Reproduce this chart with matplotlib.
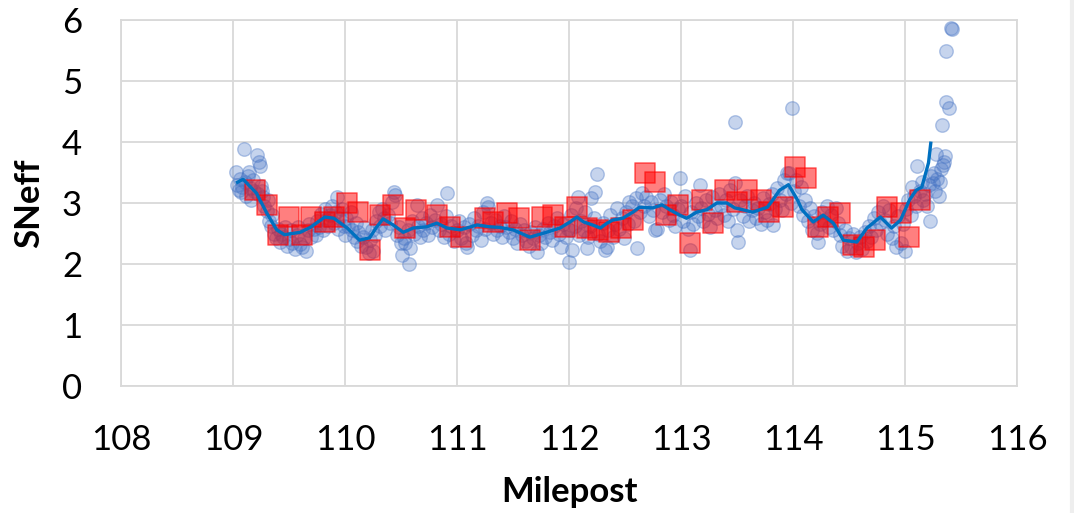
import matplotlib.pyplot as plt
from matplotlib.lines import Line2D

plt.rcParams['font.family'] = ['Lato', 'DejaVu Sans']

# blue circles: individual SNeff readings, one mile at a time
x_109 = [109.03, 109.04, 109.05, 109.06, 109.07, 109.08, 109.10, 109.11, 109.12, 109.13, 109.14, 109.15, 109.16,
         109.18, 109.19, 109.21, 109.22, 109.23, 109.24, 109.25, 109.26, 109.27, 109.28, 109.30, 109.31, 109.32,
         109.34, 109.35, 109.37, 109.38, 109.40, 109.42, 109.43, 109.45, 109.46, 109.48, 109.50, 109.52, 109.53,
         109.55, 109.57, 109.58, 109.60, 109.62, 109.63, 109.65, 109.67, 109.68, 109.70, 109.72, 109.74, 109.75,
         109.77, 109.79, 109.80, 109.82, 109.83, 109.85, 109.87, 109.88, 109.90, 109.92, 109.93, 109.94, 109.95,
         109.97, 109.99]
y_109 = [3.51, 3.30, 3.22, 3.40, 3.18, 3.27, 3.89, 3.35, 3.12, 3.45, 3.51, 3.24, 3.05,
         3.38, 3.20, 3.79, 3.14, 3.68, 3.60, 3.28, 3.20, 3.10, 2.95, 2.87, 3.05, 2.70,
         2.62, 2.80, 2.50, 2.42, 2.58, 2.36, 2.50, 2.44, 2.60, 2.30, 2.41, 2.55, 2.35,
         2.25, 2.47, 2.60, 2.32, 2.28, 2.42, 2.22, 2.55, 2.66, 2.45, 2.58, 2.48, 2.70,
         2.60, 2.82, 2.55, 2.90, 2.72, 2.62, 2.80, 2.95, 2.68, 2.85, 3.10, 2.58, 2.75,
         2.90, 2.62]

x_110 = [110.00, 110.01, 110.03, 110.05, 110.06, 110.08, 110.10, 110.11, 110.12, 110.14, 110.16, 110.17, 110.19,
         110.21, 110.22, 110.24, 110.25, 110.27, 110.28, 110.30, 110.31, 110.33, 110.35, 110.36, 110.38, 110.40,
         110.42, 110.44, 110.45, 110.46, 110.48, 110.50, 110.51, 110.53, 110.54, 110.56, 110.57, 110.58, 110.60,
         110.62, 110.64, 110.65, 110.67, 110.69, 110.70, 110.72, 110.74, 110.76, 110.78, 110.80, 110.82, 110.84,
         110.86, 110.88, 110.90, 110.91, 110.93, 110.95, 110.97]
y_110 = [2.48, 2.75, 2.62, 2.85, 2.55, 2.45, 2.68, 2.38, 2.52, 2.30, 2.45, 2.60, 2.28,
         2.18, 2.40, 2.55, 2.22, 2.48, 2.70, 2.85, 2.62, 2.90, 2.75, 2.55, 2.80, 2.68,
         3.02, 3.18, 3.13, 2.48, 2.60, 2.35, 2.15, 2.42, 2.34, 2.55, 2.00, 2.26, 2.70,
         2.50, 2.97, 2.62, 2.45, 2.75, 2.55, 2.68, 2.48, 2.80, 2.60, 2.72, 2.97, 2.55,
         2.65, 2.45, 2.78, 3.16, 2.50, 2.62, 2.38]

x_111 = [111.00, 111.02, 111.04, 111.06, 111.08, 111.09, 111.11, 111.13, 111.15, 111.17, 111.19, 111.21, 111.23,
         111.25, 111.27, 111.28, 111.30, 111.32, 111.34, 111.36, 111.38, 111.40, 111.42, 111.44, 111.46, 111.48,
         111.50, 111.52, 111.54, 111.56, 111.58, 111.60, 111.62, 111.64, 111.66, 111.68, 111.70, 111.71, 111.73,
         111.75, 111.77, 111.79, 111.81, 111.83, 111.85, 111.87, 111.89, 111.91, 111.93, 111.95, 111.97, 111.99]
y_111 = [2.55, 2.70, 2.42, 2.60, 2.35, 2.28, 2.65, 2.48, 2.75, 2.55, 2.62, 2.40, 2.85,
         2.58, 3.00, 2.93, 2.68, 2.50, 2.72, 2.55, 2.62, 2.45, 2.78, 2.60, 2.52, 2.70,
         2.42, 2.58, 2.35, 2.65, 2.48, 2.55, 2.38, 2.30, 2.52, 2.42, 2.60, 2.20, 2.48,
         2.35, 2.58, 2.45, 2.68, 2.52, 2.40, 2.62, 2.75, 2.50, 2.28, 2.65, 2.45, 2.58]

x_112 = [112.00, 112.01, 112.02, 112.03, 112.05, 112.06, 112.08, 112.09, 112.11, 112.13, 112.14, 112.16, 112.17,
         112.19, 112.20, 112.22, 112.23, 112.25, 112.26, 112.28, 112.30, 112.32, 112.34, 112.35, 112.37, 112.39,
         112.41, 112.43, 112.45, 112.47, 112.49, 112.51, 112.53, 112.54, 112.56, 112.58, 112.60, 112.61, 112.63,
         112.65, 112.67, 112.69, 112.71, 112.73, 112.75, 112.77, 112.79, 112.81, 112.83, 112.85, 112.87, 112.89,
         112.91, 112.93, 112.95, 112.97, 112.99]
y_112 = [2.03, 2.55, 2.80, 2.23, 2.62, 2.92, 3.10, 2.48, 2.70, 2.55, 2.85, 2.26, 2.45,
         2.62, 3.08, 2.75, 3.18, 3.48, 2.50, 2.38, 2.68, 2.23, 2.28, 2.55, 2.80, 2.45,
         2.65, 2.92, 2.58, 2.75, 2.42, 2.85, 2.65, 3.02, 2.95, 2.70, 3.08, 2.26, 2.85,
         3.16, 2.95, 3.10, 2.78, 3.02, 2.88, 2.55, 2.58, 3.05, 2.85, 3.15, 2.95, 2.72,
         3.02, 2.80, 2.62, 2.90, 3.41]

x_113 = [113.00, 113.02, 113.04, 113.06, 113.08, 113.09, 113.11, 113.13, 113.15, 113.17, 113.18, 113.20, 113.22,
         113.24, 113.26, 113.28, 113.30, 113.32, 113.34, 113.36, 113.38, 113.40, 113.42, 113.44, 113.46, 113.48,
         113.48, 113.50, 113.51, 113.53, 113.55, 113.57, 113.59, 113.61, 113.63, 113.65, 113.67, 113.69, 113.71,
         113.73, 113.75, 113.77, 113.79, 113.81, 113.82, 113.84, 113.86, 113.88, 113.90, 113.92, 113.94, 113.95,
         113.96, 113.98, 113.99]
y_113 = [2.95, 2.70, 3.12, 2.58, 2.23, 2.85, 2.65, 3.00, 2.78, 3.30, 2.92, 2.70, 3.05,
         2.82, 2.60, 3.10, 2.88, 2.75, 3.15, 2.95, 2.80, 3.05, 2.70, 3.22, 2.90, 4.33,
         3.33, 2.56, 2.36, 3.05, 2.78, 2.95, 3.12, 2.70, 2.88, 3.00, 2.75, 2.92, 2.65,
         3.08, 2.85, 2.72, 2.98, 3.15, 2.64, 2.90, 3.25, 3.05, 2.88, 3.38, 3.15, 3.49,
         3.50, 3.00, 4.56]

x_114 = [114.01, 114.03, 114.05, 114.07, 114.09, 114.11, 114.13, 114.15, 114.17, 114.19, 114.21, 114.22, 114.24,
         114.26, 114.28, 114.30, 114.32, 114.34, 114.36, 114.38, 114.40, 114.42, 114.44, 114.46, 114.48, 114.50,
         114.52, 114.54, 114.56, 114.58, 114.60, 114.62, 114.64, 114.66, 114.68, 114.70, 114.72, 114.74, 114.76,
         114.78, 114.80, 114.82, 114.84, 114.86, 114.88, 114.90, 114.92, 114.94, 114.96, 114.98]
y_114 = [3.20, 3.38, 2.95, 3.26, 2.80, 3.05, 2.70, 2.92, 2.55, 2.78, 2.51, 2.36, 2.65,
         2.85, 2.72, 2.95, 2.60, 2.80, 2.55, 2.92, 2.68, 2.48, 2.30, 2.55, 2.22, 2.42,
         2.28, 2.50, 2.20, 2.35, 2.45, 2.25, 2.52, 2.38, 2.62, 2.45, 2.75, 2.55, 2.85,
         2.68, 2.95, 2.72, 2.50, 2.88, 2.42, 2.62, 2.28, 2.78, 2.35, 2.65]

x_115 = [115.00, 115.01, 115.03, 115.05, 115.06, 115.08, 115.10, 115.11, 115.13, 115.15, 115.16, 115.18, 115.20,
         115.21, 115.22, 115.23, 115.25, 115.26, 115.27, 115.28, 115.29, 115.30, 115.31, 115.32, 115.33, 115.34,
         115.35, 115.36, 115.37, 115.37, 115.39, 115.41, 115.42]
y_115 = [2.22, 2.90, 3.05, 2.80, 3.26, 3.12, 2.95, 3.60, 3.20, 3.35, 3.05, 3.15, 2.95,
         3.30, 2.70, 3.45, 3.33, 3.50, 3.20, 3.80, 3.40, 3.11, 3.34, 3.55, 4.28, 3.62,
         3.68, 3.77, 4.66, 5.49, 4.56, 5.87, 5.86]

# red squares
sq_x = [109.20, 109.30, 109.40, 109.50, 109.62, 109.70, 109.82, 109.90, 110.02, 110.12, 110.22, 110.31, 110.43,
        110.54, 110.63, 110.82, 110.94, 111.04, 111.25, 111.32, 111.45, 111.55, 111.65, 111.76, 111.86, 111.96,
        112.07, 112.16, 112.26, 112.36, 112.46, 112.57, 112.68, 112.77, 112.87, 112.97, 113.08, 113.19, 113.29,
        113.39, 113.50, 113.59, 113.71, 113.79, 113.91, 114.02, 114.12, 114.22, 114.31, 114.42, 114.54, 114.63,
        114.73, 114.84, 114.96, 115.04, 115.13]
sq_y = [3.21, 2.97, 2.48, 2.77, 2.48, 2.77, 2.69, 2.77, 3.00, 2.85, 2.23, 2.80, 2.97,
        2.59, 2.89, 2.80, 2.61, 2.44, 2.75, 2.69, 2.84, 2.75, 2.39, 2.77, 2.80, 2.61,
        2.93, 2.59, 2.56, 2.52, 2.59, 2.72, 3.49, 3.34, 2.80, 2.97, 2.34, 3.05, 2.67,
        3.21, 3.02, 3.21, 3.05, 2.85, 2.93, 3.59, 3.41, 2.61, 2.77, 2.84, 2.31, 2.28,
        2.39, 2.93, 2.84, 2.44, 3.05]

# blue trend line
tr_x = [109.04, 109.09, 109.21, 109.30, 109.39, 109.46, 109.60, 109.69, 109.82, 109.90, 110.02, 110.13, 110.22,
        110.28, 110.34, 110.43, 110.52, 110.61, 110.73, 110.82, 110.91, 111.03, 111.18, 111.29, 111.38, 111.50,
        111.65, 111.80, 111.92, 112.01, 112.07, 112.13, 112.21, 112.28, 112.34, 112.39, 112.48, 112.57, 112.63,
        112.75, 112.83, 112.90, 112.99, 113.05, 113.14, 113.23, 113.32, 113.41, 113.48, 113.55, 113.64, 113.77,
        113.82, 113.88, 113.96, 114.04, 114.08, 114.18, 114.27, 114.36, 114.45, 114.57, 114.66, 114.78, 114.88,
        114.96, 115.04, 115.10, 115.15, 115.21, 115.23]
tr_y = [3.34, 3.39, 3.16, 2.84, 2.56, 2.48, 2.52, 2.60, 2.77, 2.75, 2.59, 2.39, 2.43,
        2.60, 2.74, 2.64, 2.52, 2.59, 2.61, 2.67, 2.59, 2.56, 2.64, 2.61, 2.60, 2.56,
        2.44, 2.52, 2.59, 2.69, 2.77, 2.69, 2.64, 2.59, 2.67, 2.72, 2.75, 2.85, 2.93,
        2.92, 2.97, 2.89, 2.80, 2.75, 2.85, 2.89, 3.00, 3.00, 2.92, 2.89, 2.85, 2.93,
        3.05, 3.21, 3.30, 3.05, 2.89, 2.69, 2.80, 2.67, 2.39, 2.36, 2.59, 2.77, 2.59,
        2.72, 3.05, 3.21, 3.26, 3.66, 3.98]

circ_x = x_109 + x_110 + x_111 + x_112 + x_113 + x_114 + x_115
circ_y = y_109 + y_110 + y_111 + y_112 + y_113 + y_114 + y_115

fig = plt.figure(figsize=(10.74, 5.13), dpi=100)
ax = fig.add_axes([121 / 1074, 1 - 386 / 513, 896 / 1074, 366 / 513])

ax.scatter(circ_x, circ_y, s=95, marker='o', facecolor=(0.27, 0.45, 0.77, 0.3),
           edgecolor=(0.27, 0.45, 0.77, 0.38), linewidth=1, zorder=3)
ax.scatter(sq_x, sq_y, s=220, marker='s', facecolor=(1, 0, 0, 0.5),
           edgecolor=(1, 0, 0, 0.55), linewidth=1.2, zorder=4)
ax.plot(tr_x, tr_y, color='#0070C0', linewidth=2.4, zorder=5)

ax.set_xlim(108, 116)
ax.set_ylim(0, 6)
ax.set_xticks(range(108, 117))
ax.set_yticks(range(0, 7))
ax.grid(True, color='#D9D9D9', linewidth=1.3, zorder=0)
ax.set_axisbelow(True)
for s in ax.spines.values():
    s.set_color('#D9D9D9')
    s.set_linewidth(1.3)
ax.tick_params(length=0, labelsize=25, colors='black')
ax.tick_params(axis='x', pad=27)
ax.tick_params(axis='y', pad=28)
ax.set_xlabel('Milepost', fontsize=25, fontweight='bold', labelpad=15)
ax.set_ylabel('SNeff', fontsize=25, fontweight='bold', labelpad=12)

fig.add_artist(Line2D([0.9985, 0.9985], [0, 1], color='#EEEEEE', linewidth=3, transform=fig.transFigure))

fig.savefig('out.png', dpi=100)
